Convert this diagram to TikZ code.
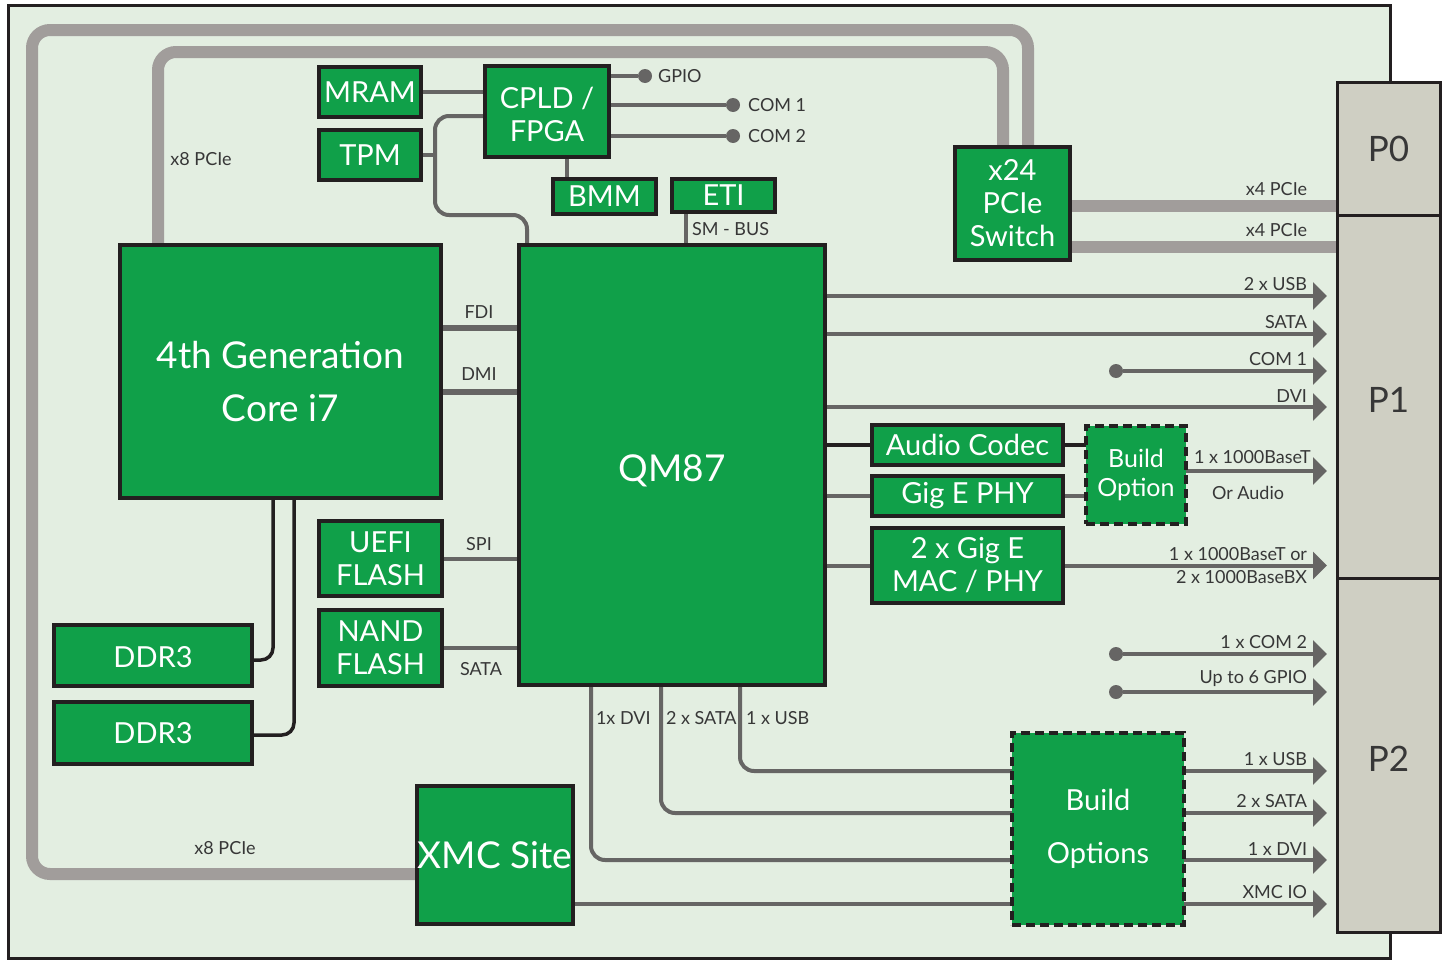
\documentclass[tikz,border=0pt]{standalone}
\usepackage{fontspec}
\setmainfont{Lato}
\usetikzlibrary{arrows.meta, positioning, calc}
\definecolor{chipgreen}{RGB}{16,160,73}
\definecolor{boardbg}{RGB}{227,238,225}
\definecolor{pciegray}{RGB}{161,157,155}
\definecolor{busgray}{RGB}{102,101,100}
\definecolor{conngray}{RGB}{207,207,195}
\definecolor{inkblack}{RGB}{35,31,32}
\definecolor{labelgray}{RGB}{55,55,55}
\pgfdeclarelayer{board}
\pgfdeclarelayer{wires}
\pgfsetlayers{board,wires,main}

\begin{document}
\begin{tikzpicture}[x=1pt, y=-1pt,
    chip/.style={rectangle, draw=inkblack, line width=4pt, fill=chipgreen, text=white, inner sep=0pt, outer sep=0pt, align=center, font=\fontsize{29}{33}\selectfont},
    bigchip/.style={chip, font=\fontsize{37}{53}\selectfont},
    option/.style={chip, dash pattern=on 9pt off 5pt},
    conn/.style={rectangle, draw=inkblack, line width=3pt, fill=conngray, inner sep=0pt, outer sep=0pt, minimum width=103pt, text=labelgray, font=\fontsize{35}{40}\selectfont},
    pcie/.style={line width=12pt, draw=pciegray, rounded corners=18pt},
    bus/.style={line width=4pt, draw=busgray, rounded corners=14pt},
    wide/.style={line width=6pt, draw=busgray},
    link/.style={line width=3.5pt, draw=inkblack, rounded corners=12pt},
    arrow/.style={bus, -{Triangle[length=14pt, width=27pt]}, shorten >=10pt},
    dot/.style={circle, fill=busgray, minimum size=14pt, inner sep=0pt},
    lbl/.style={text=labelgray, font=\fontsize{18}{22}\selectfont, inner sep=1pt, outer sep=0pt},
    tag/.style={lbl, pos=1, anchor=south east, xshift=-29pt, yshift=4pt}
]
\useasboundingbox (0,0) rectangle (1445,961);
\begin{pgfonlayer}{board}
\draw[line width=3pt, draw=inkblack, fill=boardbg] (8,5) rectangle (1390,958);
\end{pgfonlayer}

% chips
\node[chip, minimum width=102pt, minimum height=50pt] (mram) at (370,92) {MRAM};
\node[chip, minimum width=102pt, minimum height=50pt, below=13pt of mram] (tpm) {TPM};
\node[chip, minimum width=124pt, minimum height=91pt] (cpld) at (547,111.5) {\rule{0pt}{28pt}CPLD /\\FPGA};
\node[chip, minimum width=103pt, minimum height=35pt] (bmm) at (604.5,196.5) {BMM};
\node[chip, minimum width=103pt, minimum height=33pt] (eti) at (723.5,195.5) {ETI};
\node[chip, minimum width=115pt, minimum height=113pt] (sw) at (1012.5,203.5) {x24\\PCIe\\Switch};
\node[bigchip, minimum width=321pt, minimum height=253pt] (cpu) at (280.5,371.5) {\rule{0pt}{48pt}4th Generation\\Core i7};
\node[bigchip, minimum width=306pt, minimum height=440pt] (qm) at (672,465) {\rule{0pt}{39pt}QM87};
\node[chip, minimum width=123pt, minimum height=75pt] (uefi) at (380.5,558.5) {UEFI\\FLASH};
\node[chip, minimum width=123pt, minimum height=76pt, below=14pt of uefi] (nand) {NAND\\FLASH};
\node[chip, minimum width=198pt, minimum height=61pt] (ddrA) at (153,655.5) {\rule{0pt}{25pt}DDR3};
\node[chip, minimum width=198pt, minimum height=62pt, below=16pt of ddrA] (ddrB) {DDR3};
\node[bigchip, minimum width=156pt, minimum height=138pt] (xmc) at (495,855) {XMC Site};
\node[chip, minimum width=191pt, minimum height=40pt] (audio) at (967.5,445) {Audio Codec};
\node[chip, minimum width=191pt, minimum height=40pt, below=11pt of audio] (gige) {Gig E PHY};
\node[chip, minimum width=191pt, minimum height=75pt, below=12pt of gige] (mac) {2 x Gig E\\MAC / PHY};
\node[option, minimum width=100pt, minimum height=98pt, font=\fontsize{25}{29}\selectfont] (bopt) at (1136,475) {Build\\Option};
\node[option, minimum width=172pt, minimum height=192pt, font=\fontsize{29}{53}\selectfont] (bopts) at (1098,829) {Build\\Options};

% backplane connector
\node[conn, minimum height=133pt] (p0) at (1388.5,148.5) {P0};
\node[conn, minimum height=363pt, below=0pt of p0] (p1) {\rule{0pt}{31pt}P1};
\node[conn, minimum height=354pt, below=0pt of p1] (p2) {\rule{0pt}{33pt}P2};

% end points
\node[dot] (gpiodot) at (645,76) {};
\node[dot] (comAdot) at (733,105) {};
\node[dot] (comBdot) at (733,136) {};
\node[dot] (com1dot) at (1116,371) {};
\node[dot] (com2dot) at (1116,654) {};
\node[dot] (giodot) at (1116,692) {};
\node[lbl, right=5pt of gpiodot] (gpiolbl) {GPIO};
\node[lbl, right=7pt of comAdot] (comAlbl) {COM 1};
\node[lbl, right=7pt of comBdot] (comBlbl) {COM 2};

% labels
\node[lbl] (pcieA) at (201,159) {x8 PCIe};
\node[lbl] (pcieB) at (225,848) {x8 PCIe};
\node[lbl] (fdi) at (479,312) {FDI};
\node[lbl] (dmi) at (479,374) {DMI};
\node[lbl] (spi) at (479,544) {SPI};
\node[lbl] (sata) at (481,669) {SATA};
\node[lbl, anchor=west] (smbus) at (691,229) {SM - BUS};
\node[lbl, anchor=west] (dvi) at (595,718) {1x DVI};
\node[lbl, anchor=west] (sataB) at (665,718) {2 x SATA};
\node[lbl, anchor=west] (usb) at (745,718) {1 x USB};
\node[lbl, anchor=west] (baset) at (1193,457) {1 x 1000BaseT};
\node[lbl] (oraudio) at (1248,493) {Or Audio};
\node[lbl, anchor=east] (basebx) at (1308,577) {2 x 1000BaseBX};

\begin{pgfonlayer}{wires}
% PCIe
\draw[pcie] (xmc.west |- 0,874) -- (32,874) -- (32,30) -- (1028,30) -- (sw.north -| 1028,0);
\draw[pcie] (cpu.north -| 158,0) -- (158,52) -- (1003,52) -- (sw.north -| 1003,0);
\draw[pcie, rounded corners=0pt] (sw.east |- 0,206) -- (p0.west |- 0,206) node[tag, yshift=5pt] {x4 PCIe};
\draw[pcie, rounded corners=0pt] (sw.east |- 0,247) -- (p1.west |- 0,247) node[tag, yshift=5pt] {x4 PCIe};
% cpld side
\draw[bus] (mram.east) -- (mram.east -| cpld.west);
\draw[bus] (cpld.west |- 0,116) -- (435,116) -- (435,215) -- (527,215) -- (qm.north -| 527,0);
\draw[bus] (tpm.east) -- (tpm.east -| 435,0);
\draw[bus] (cpld.south -| 567,0) -- (bmm.north -| 567,0);
\draw[bus] (eti.south -| 686,0) -- (qm.north -| 686,0);
\draw[bus] (cpld.east |- gpiodot) -- (gpiodot);
\draw[bus] (cpld.east |- comAdot) -- (comAdot);
\draw[bus] (cpld.east |- comBdot) -- (comBdot);
% cpu and memory
\draw[wide] (cpu.east |- 0,328) -- (qm.west |- 0,328);
\draw[wide] (cpu.east |- 0,392) -- (qm.west |- 0,392);
\draw[link] (cpu.south -| 273,0) -- (273,660) -- (ddrA.east |- 0,660);
\draw[link] (cpu.south -| 294,0) -- (294,735) -- (ddrB.east |- 0,735);
\draw[bus] (uefi.east) -- (qm.west |- uefi.east);
\draw[bus] (nand.east) -- (qm.west |- nand.east);
% io to P1
\draw[arrow] (qm.east |- 0,296) -- (p1.west |- 0,296) node[tag] {2 x USB};
\draw[arrow] (qm.east |- 0,334) -- (p1.west |- 0,334) node[tag] {SATA};
\draw[arrow] (com1dot) -- (p1.west |- com1dot) node[tag] {COM 1};
\draw[arrow] (qm.east |- 0,407) -- (p1.west |- 0,407) node[tag] {DVI};
\draw[link] (qm.east |- audio.west) -- (audio.west);
\draw[link] (audio.east) -- (bopt.west |- audio.east);
\draw[bus] (qm.east |- gige.west) -- (gige.west);
\draw[bus] (gige.east) -- (bopt.west |- gige.east);
\draw[arrow] (bopt.east |- 0,471) -- (p1.west |- 0,471);
\draw[bus] (qm.east |- mac.west) -- (mac.west);
\draw[arrow] (mac.east) -- (p1.west |- mac.east) node[tag] {1 x 1000BaseT or};
% io to P2
\draw[arrow] (com2dot) -- (p2.west |- com2dot) node[tag] {1 x COM 2};
\draw[arrow] (giodot) -- (p2.west |- giodot) node[tag] {Up to 6 GPIO};
\draw[bus] (qm.south -| 740,0) -- (740,771) -- (bopts.west |- 0,771);
\draw[bus] (qm.south -| 661,0) -- (661,813) -- (bopts.west |- 0,813);
\draw[bus] (qm.south -| 591,0) -- (591,860) -- (bopts.west |- 0,860);
\draw[bus] (xmc.east |- 0,904) -- (bopts.west |- 0,904);
\draw[arrow] (bopts.east |- 0,771) -- (p2.west |- 0,771) node[tag] {1 x USB};
\draw[arrow] (bopts.east |- 0,813) -- (p2.west |- 0,813) node[tag] {2 x SATA};
\draw[arrow] (bopts.east |- 0,860) -- (p2.west |- 0,860) node[tag] {1 x DVI};
\draw[arrow] (bopts.east |- 0,904) -- (p2.west |- 0,904) node[tag] {XMC IO};
\end{pgfonlayer}
\end{tikzpicture}
\end{document}
